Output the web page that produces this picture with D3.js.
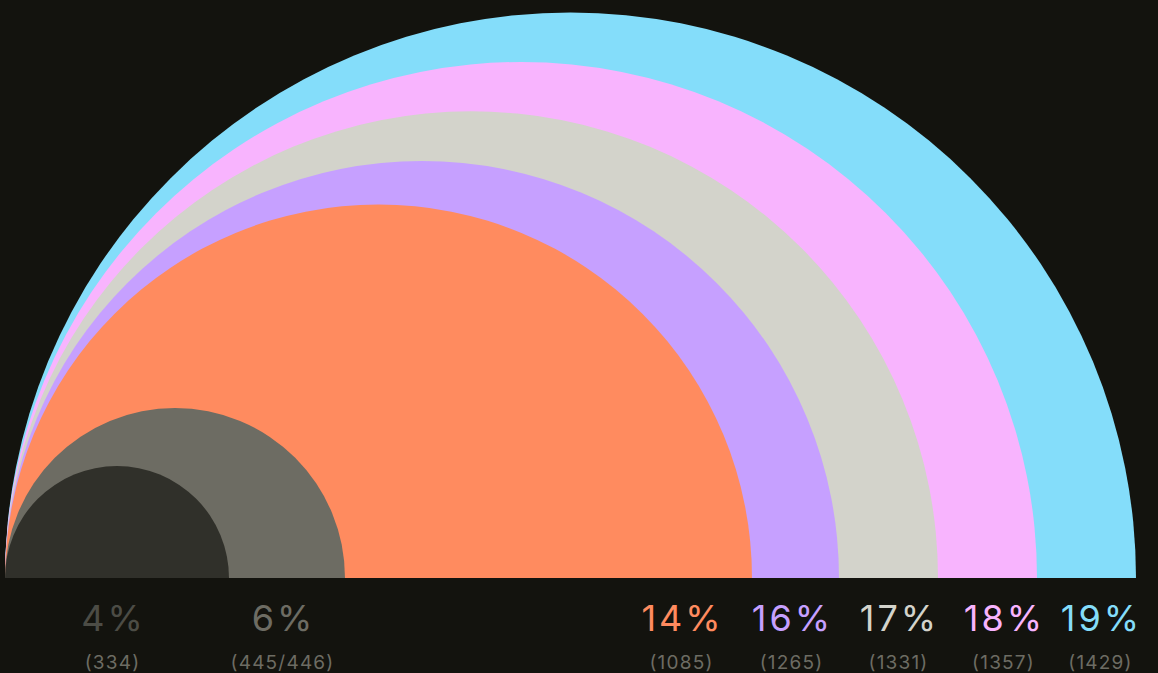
<!DOCTYPE html>
<html>
<head>
<meta charset="utf-8">
<script src="https://cdn.jsdelivr.net/npm/d3@7"></script>
<style>
  html, body { margin: 0; padding: 0; background: #13130e; }
  svg { display: block; }
</style>
</head>
<body>
<div id="chart"></div>
<script>
// Shares shown under each half-disc (percent) and the raw counts
var percents = [4, 6, 14, 16, 17, 18, 19];
var countLabels = ["334", "445/446", "1085", "1265", "1331", "1357", "1429"];
var counts = [334, 445, 1085, 1265, 1331, 1357, 1429];

// palette, one colour per group
var fills = ["#30302a", "#6d6c63", "#ff8b5f", "#c6a0ff", "#d3d3cb", "#f8b4fe", "#84ddfa"];
var labelColors = ["#4c4c45", "#6d6c63", "#ff8b5f", "#c6a0ff", "#d3d3cb", "#f8b4fe", "#84ddfa"];

var width = 1158, height = 673;
var left = 5, baseline = 578;

var svg = d3.select("#chart")
    .append("svg")
    .attr("width", width)
    .attr("height", height);

// radius of each half-disc from its count
var rScale = d3.scaleLinear()
    .domain(counts)
    .range([112, 170, 373.5, 417, 466.5, 516, 565.5]);

// centre of each label column
var labelX = d3.scaleOrdinal()
    .domain(counts)
    .range([112, 282, 681, 791, 898, 1003, 1100]);

var data = counts.map(function (c, i) {
    return { count: c, pct: percents[i], label: countLabels[i], fill: fills[i], color: labelColors[i] };
});

var arc = d3.arc()
    .innerRadius(0)
    .outerRadius(function (d) { return rScale(d.count); })
    .startAngle(-Math.PI / 2)
    .endAngle(Math.PI / 2);

// biggest first so smaller ones sit on top
svg.append("g").selectAll("path")
    .data(data.slice().sort(function (a, b) { return b.count - a.count; }))
    .enter()
    .append("path")
    .attr("transform", function (d) { return "translate(" + (left + rScale(d.count)) + "," + baseline + ")"; })
    .attr("d", arc)
    .attr("fill", function (d) { return d.fill; });

var labels = svg.append("g")
    .style("font-family", "Inter, 'Noto Sans', sans-serif");

labels.selectAll("text.pct")
    .data(data)
    .enter()
    .append("text")
    .attr("class", "pct")
    .attr("x", function (d) { return labelX(d.count) + 1.5; })
    .attr("y", 631)
    .attr("text-anchor", "middle")
    .style("font-size", "36px")
    .style("letter-spacing", "3px")
    .attr("fill", function (d) { return d.color; })
    .text(function (d) { return d.pct + "%"; });

labels.selectAll("text.cnt")
    .data(data)
    .enter()
    .append("text")
    .attr("class", "cnt")
    .attr("x", function (d) { return labelX(d.count) + 0.5; })
    .attr("y", 669)
    .attr("text-anchor", "middle")
    .style("font-size", "19px")
    .style("letter-spacing", "1.2px")
    .attr("fill", "#6d6c63")
    .text(function (d) { return "(" + d.label + ")"; });
</script>
</body>
</html>
